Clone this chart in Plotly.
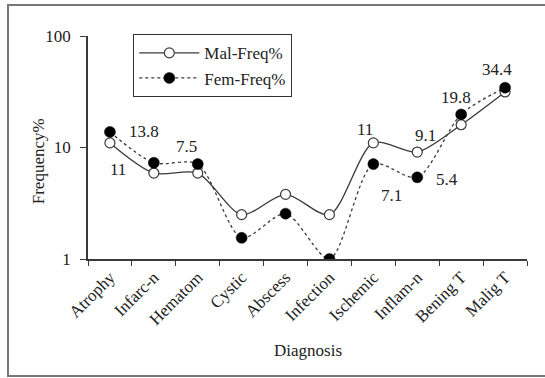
import math
import plotly.graph_objects as go

categories = ["Atrophy", "Infarc-n", "Hematom", "Cystic", "Abscess", "Infection",
              "Ischemic", "Inflam-n", "Bening T", "Malig T"]
mal_freq = [11, 5.9, 5.9, 2.5, 3.8, 2.5, 11, 9.1, 16, 31.5]
fem_freq = [13.8, 7.3, 7.1, 1.55, 2.55, 1.0, 7.1, 5.4, 19.8, 34.4]

# data labels: (text, category, value, xshift, yshift)
label_text = ["11", "13.8", "7.5", "11", "7.1", "9.1", "5.4", "19.8", "34.4"]
label_cat = ["Atrophy", "Atrophy", "Infarc-n", "Ischemic", "Ischemic", "Inflam-n",
             "Inflam-n", "Bening T", "Malig T"]
label_val = [11, 13.8, 7.3, 11, 7.1, 9.1, 5.4, 19.8, 34.4]
label_dx = [8, 34, 33, -8, 18, 8, 30, -5, -8]
label_dy = [-27, 0, 16, 13, -31, 17, -2, 17, 18]

serif = "Liberation Serif"
ink = "#3a3a3a"

fig = go.Figure()
fig.add_trace(go.Scatter(
    x=categories, y=mal_freq, name="Mal-Freq%", mode="lines+markers",
    line=dict(color=ink, width=1.3, shape="spline", smoothing=0.8),
    marker=dict(symbol="circle", size=10, color="white", line=dict(color=ink, width=1.2)),
))
fig.add_trace(go.Scatter(
    x=categories, y=fem_freq, name="Fem-Freq%", mode="lines+markers",
    line=dict(color=ink, width=1.3, dash="dot", shape="spline", smoothing=0.8),
    marker=dict(symbol="circle", size=11, color="black", line=dict(color="black", width=0.5)),
))

annotations = []
for t, c, v, dx, dy in zip(label_text, label_cat, label_val, label_dx, label_dy):
    annotations.append(dict(x=c, y=math.log10(v), yref="y", xref="x", text=t, showarrow=False,
                            xshift=dx, yshift=dy,
                            font=dict(family=serif, size=17, color="#222")))

annotations.append(dict(xref="paper", yref="paper", x=0.5, y=-0.41, text="Diagnosis",
                        showarrow=False, xanchor="center", yanchor="middle",
                        font=dict(family=serif, size=17, color="#222")))
annotations.append(dict(xref="paper", yref="paper", x=-0.113, y=0.44, text="Frequency%",
                        showarrow=False, textangle=-90, xanchor="center", yanchor="middle",
                        font=dict(family=serif, size=17, color="#222")))

W, H = 545, 378
L, R, T, B = 88, 18, 36, 119
pw, ph = W - L - R, H - T - B

def px_x(p):
    return (p - L) / pw

def px_y(p):
    return (H - B - p) / ph

shapes = [dict(type="rect", xref="paper", yref="paper",
               x0=px_x(8), x1=px_x(620), y0=px_y(376), y1=px_y(5),
               line=dict(color="#777", width=2), fillcolor="rgba(0,0,0,0)", layer="below")]

fig.update_layout(
    width=W, height=H,
    margin=dict(l=L, r=R, t=T, b=B, pad=0),
    paper_bgcolor="white", plot_bgcolor="white",
    font=dict(family=serif),
    showlegend=True,
    legend=dict(x=px_x(133), y=px_y(34), xanchor="left", yanchor="top",
                bordercolor="#333", borderwidth=1.3, bgcolor="white",
                font=dict(family=serif, size=17, color="#222"),
                tracegroupgap=0, itemwidth=60),
    xaxis=dict(type="category", range=[-0.5, 9.5], showgrid=False, zeroline=False,
               showline=True, linecolor=ink, linewidth=1.5,
               ticks="outside", ticklen=5, tickcolor=ink, tickwidth=1.3,
               tickson="boundaries", tickangle=-45,
               tickfont=dict(family=serif, size=17, color="#222")),
    yaxis=dict(type="log", range=[0, 2], tickvals=[1, 10, 100], ticktext=["1", "10", "100"],
               showgrid=False, zeroline=False, showline=True, linecolor=ink, linewidth=1.5,
               ticks="outside", ticklen=6, tickcolor=ink, tickwidth=1.3,
               ticklabelstandoff=6,
               tickfont=dict(family=serif, size=17, color="#222")),
    annotations=annotations,
    shapes=shapes,
)

fig.write_html("out.html")
